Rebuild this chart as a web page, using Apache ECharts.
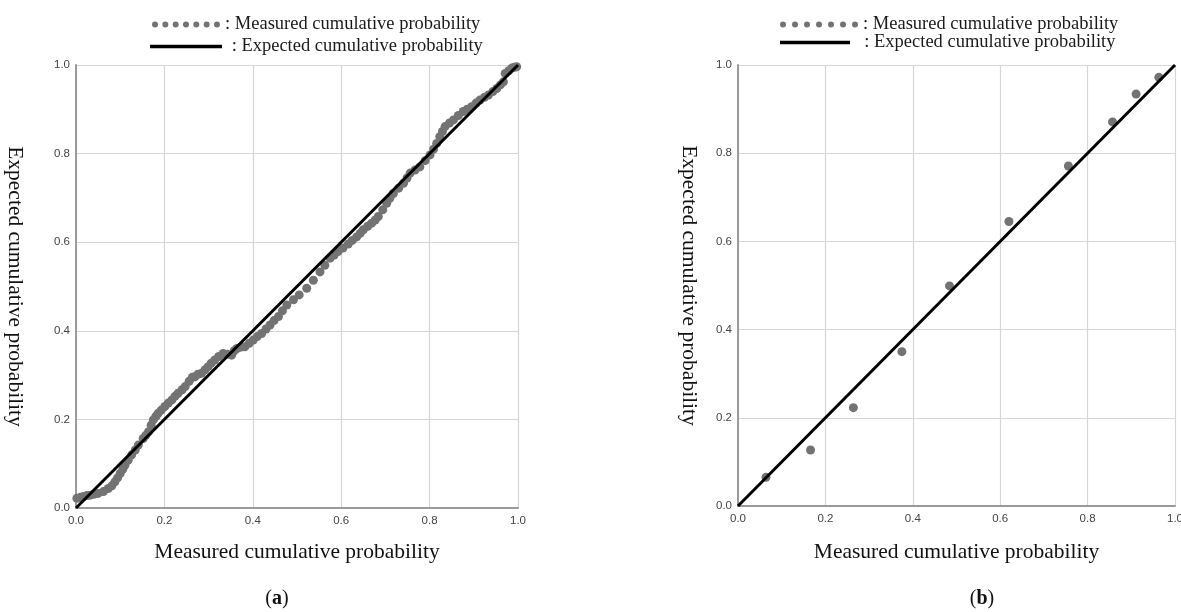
<!DOCTYPE html>
<html>
<head>
<meta charset="utf-8">
<style>
  html, body { margin: 0; padding: 0; background: #fff; }
  #chart { width: 1181px; height: 612px; }
</style>
<script src="https://cdn.jsdelivr.net/npm/echarts@6/dist/echarts.min.js"></script>
</head>
<body>
<div id="chart"></div>
<script>
// Panel (a): P-P plot, measured vs expected cumulative probability
const measuredAX = [
  0.002, 0.010, 0.017, 0.025, 0.032, 0.040, 0.050, 0.062, 0.073, 0.081,
  0.088, 0.094, 0.100, 0.106, 0.111, 0.118, 0.126, 0.134, 0.141, 0.152,
  0.158, 0.164, 0.170, 0.175, 0.181, 0.186, 0.193, 0.201, 0.209, 0.217,
  0.224, 0.231, 0.240, 0.247, 0.256, 0.263, 0.269, 0.276, 0.284, 0.292,
  0.299, 0.306, 0.314, 0.323, 0.333, 0.343, 0.352, 0.358, 0.364, 0.373,
  0.382, 0.392, 0.401, 0.410, 0.420, 0.430, 0.439, 0.448, 0.458, 0.467,
  0.477, 0.492, 0.505, 0.522, 0.537, 0.552, 0.563, 0.575, 0.584, 0.593,
  0.604, 0.616, 0.625, 0.635, 0.643, 0.650, 0.660, 0.669, 0.677, 0.684,
  0.694, 0.703, 0.710, 0.718, 0.730, 0.741, 0.749, 0.756, 0.767, 0.778,
  0.790, 0.801, 0.809, 0.816, 0.823, 0.829, 0.835, 0.845, 0.854, 0.865,
  0.876, 0.885, 0.895, 0.905, 0.914, 0.924, 0.933, 0.943, 0.952, 0.960,
  0.967, 0.971, 0.979, 0.986, 0.992, 0.997
];
const measuredAY = [
  0.022, 0.024, 0.026, 0.028, 0.029, 0.031, 0.033, 0.037, 0.044, 0.050,
  0.059, 0.068, 0.078, 0.088, 0.097, 0.108, 0.120, 0.131, 0.142, 0.157,
  0.164, 0.172, 0.187, 0.199, 0.207, 0.214, 0.221, 0.229, 0.237, 0.244,
  0.252, 0.259, 0.267, 0.274, 0.286, 0.295, 0.296, 0.302, 0.304, 0.312,
  0.319, 0.327, 0.334, 0.342, 0.349, 0.347, 0.345, 0.355, 0.360, 0.363,
  0.364, 0.372, 0.379, 0.387, 0.394, 0.404, 0.413, 0.423, 0.432, 0.445,
  0.458, 0.470, 0.481, 0.496, 0.514, 0.533, 0.548, 0.564, 0.571, 0.579,
  0.587, 0.596, 0.604, 0.612, 0.620, 0.628, 0.636, 0.643, 0.650, 0.658,
  0.673, 0.688, 0.699, 0.710, 0.722, 0.733, 0.745, 0.756, 0.763, 0.770,
  0.784, 0.797, 0.810, 0.823, 0.838, 0.850, 0.861, 0.869, 0.876, 0.886,
  0.895, 0.900, 0.906, 0.914, 0.921, 0.927, 0.932, 0.940, 0.947, 0.955,
  0.962, 0.981, 0.987, 0.993, 0.995, 0.996
];

// Panel (b)
const measuredBX = [0.064, 0.166, 0.264, 0.375, 0.484, 0.620, 0.756, 0.857, 0.911, 0.963];
const measuredBY = [0.065, 0.127, 0.223, 0.350, 0.499, 0.645, 0.771, 0.871, 0.934, 0.972];

// Reference diagonal (expected = measured)
const expectedX = [0, 1];
const expectedY = [0, 1];

const tickInterval = 0.2;
const seriesNames = ['Measured cumulative probability', 'Expected cumulative probability'];
const axisTitleX = 'Measured cumulative probability';
const axisTitleY = 'Expected cumulative probability';
const captions = ['a', 'b'];

const zip = (xs, ys) => xs.map((x, i) => [x, ys[i]]);

const SERIF = '"Liberation Serif", "Times New Roman", serif';
const SANS = '"Liberation Sans", Arial, sans-serif';
const DOT_GRAY = '#737373';

// seven-dot legend icon, built as an svg path
function dotsPath(n, r, step) {
  let d = '';
  for (let i = 0; i < n; i++) {
    const cx = r + i * step;
    d += `M${cx - r},${r}a${r},${r} 0 1,0 ${2 * r},0a${r},${r} 0 1,0 ${-2 * r},0`;
  }
  return 'path://' + d;
}

function makeXAxis(gridIndex, gap) {
  return {
    type: 'value', gridIndex, min: 0, max: 1, interval: tickInterval,
    name: axisTitleX, nameLocation: 'middle', nameGap: gap,
    nameTextStyle: { fontFamily: SERIF, fontSize: 21.5, color: '#111' },
    axisLine: { show: true, lineStyle: { color: '#9a9a9a', width: 2 } },
    axisTick: { show: false },
    axisLabel: { fontFamily: SANS, fontSize: 11.5, color: '#444', margin: 7,
                 formatter: v => v.toFixed(1), showMinLabel: true, showMaxLabel: true },
    splitLine: { show: true, lineStyle: { color: '#d6d6d6', width: 1.2 } }
  };
}
function makeYAxis(gridIndex, gap) {
  return {
    type: 'value', gridIndex, min: 0, max: 1, interval: tickInterval,
    name: axisTitleY, nameLocation: 'middle', nameGap: gap, nameRotate: -90,
    nameTextStyle: { fontFamily: SERIF, fontSize: 21.5, color: '#111' },
    axisLine: { show: true, lineStyle: { color: '#9a9a9a', width: 2 } },
    axisTick: { show: false },
    axisLabel: { fontFamily: SANS, fontSize: 11.5, color: '#444', margin: 6,
                 formatter: v => v.toFixed(1), showMinLabel: true, showMaxLabel: true },
    splitLine: { show: true, lineStyle: { color: '#d6d6d6', width: 1.2 } }
  };
}

function legendItem(name, left, top, icon, w, h, prefix) {
  return {
    left, top, orient: 'horizontal', selectedMode: false,
    itemWidth: w, itemHeight: h, itemGap: 0,
    data: [{ name, icon }],
    formatter: n => prefix + n,
    textStyle: { fontFamily: SERIF, fontSize: 18.5, color: '#1a1a1a' }
  };
}

const chart = echarts.init(document.getElementById('chart'), null, { renderer: 'canvas' });

chart.setOption({
  animation: false,
  backgroundColor: '#fff',
  grid: [
    { left: 76, top: 65, width: 442, height: 443, outerBoundsMode: 'none' },
    { left: 738, top: 65, width: 437, height: 441, outerBoundsMode: 'none' }
  ],
  xAxis: [makeXAxis(0, 33), makeXAxis(1, 35)],
  yAxis: [makeYAxis(0, 50), makeYAxis(1, 38)],
  legend: [
    legendItem(seriesNames[0], 147, 10, dotsPath(7, 3, 10.33), 68, 6, ': '),
    legendItem(seriesNames[1], 145, 32, 'rect', 72, 3.5, ' : '),
    legendItem(seriesNames[0], 775, 10, dotsPath(7, 3, 12), 78, 6, ': '),
    legendItem(seriesNames[1], 775, 28, 'rect', 70, 3.5, '  : ')
  ],
  graphic: captions.map((c, i) => ({
    type: 'text',
    x: i === 0 ? 277 : 982,
    y: 599,
    style: {
      text: '({b|' + c + '})',
      font: '20px ' + SERIF,
      fill: '#111',
      align: 'center',
      verticalAlign: 'middle',
      rich: { b: { fontWeight: 'bold', fontSize: 20, fontFamily: SERIF, fill: '#111' } }
    }
  })),
  series: [
    {
      name: seriesNames[0], type: 'scatter', xAxisIndex: 0, yAxisIndex: 0,
      data: zip(measuredAX, measuredAY), symbolSize: 9,
      itemStyle: { color: DOT_GRAY, opacity: 1 }, z: 2
    },
    {
      name: seriesNames[1], type: 'line', xAxisIndex: 0, yAxisIndex: 0,
      data: zip(expectedX, expectedY), symbol: 'none',
      lineStyle: { color: '#000', width: 3 }, itemStyle: { color: '#000' }, z: 3
    },
    {
      name: seriesNames[0], type: 'scatter', xAxisIndex: 1, yAxisIndex: 1,
      data: zip(measuredBX, measuredBY), symbolSize: 9,
      itemStyle: { color: DOT_GRAY, opacity: 1 }, z: 2
    },
    {
      name: seriesNames[1], type: 'line', xAxisIndex: 1, yAxisIndex: 1,
      data: zip(expectedX, expectedY), symbol: 'none',
      lineStyle: { color: '#000', width: 3 }, itemStyle: { color: '#000' }, z: 3
    }
  ]
});
</script>
</body>
</html>
